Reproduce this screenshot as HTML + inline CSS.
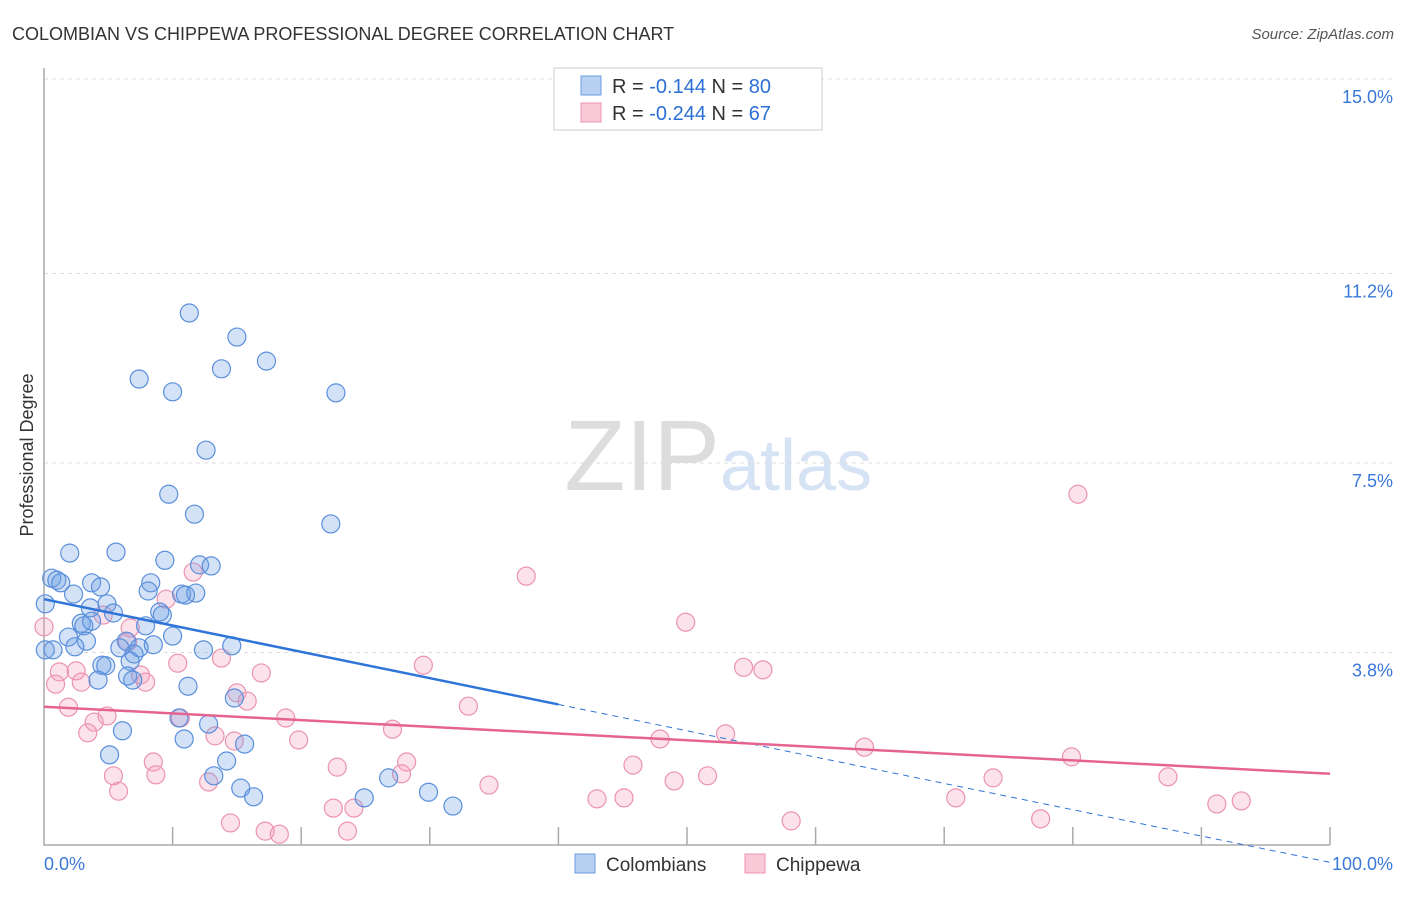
<!DOCTYPE html>
<html><head><meta charset="utf-8"><style>
body{margin:0;background:#fff;font-family:"Liberation Sans",sans-serif}
svg text{font-family:"Liberation Sans",sans-serif}
</style></head><body>
<svg id="c" width="1406" height="892" xmlns="http://www.w3.org/2000/svg">
<text x="12" y="40" font-size="18" fill="#333">COLOMBIAN VS CHIPPEWA PROFESSIONAL DEGREE CORRELATION CHART</text>
<text x="1394" y="39" font-size="15" fill="#555" text-anchor="end" font-style="italic">Source: ZipAtlas.com</text>
<text x="33" y="455" font-size="18" fill="#333" text-anchor="middle" transform="rotate(-90 33 455)">Professional Degree</text>
<text x="720" y="490" font-size="100" fill="#ddd" text-anchor="end" font-family="Liberation Serif">ZIP</text>
<text x="720" y="490" font-size="72" fill="#d5e3f5">atlas</text>
<g id="grid"></g><g id="axes"></g><g id="pts"></g><g id="lines"></g>
<g>
<rect x="554" y="68" width="268" height="62" fill="#fff" stroke="#ccc"/>
<rect x="581" y="76" width="20" height="19" fill="#b8d0f2" stroke="#6d9ce0"/>
<rect x="581" y="103" width="20" height="19" fill="#f9c9d7" stroke="#ec94b0"/>
<text x="612" y="93" font-size="20" fill="#333">R = <tspan fill="#2d6fd6">-0.144</tspan>   N = <tspan fill="#2d6fd6">80</tspan></text>
<text x="612" y="120" font-size="20" fill="#333">R = <tspan fill="#2d6fd6">-0.244</tspan>   N = <tspan fill="#2d6fd6"> 67</tspan></text>
</g>
<g>
<rect x="575" y="854" width="20" height="19" fill="#b8d0f2" stroke="#6d9ce0"/>
<text x="606" y="871" font-size="19" fill="#333">Colombians</text>
<rect x="745" y="854" width="20" height="19" fill="#f9c9d7" stroke="#ec94b0"/>
<text x="776" y="871" font-size="19" fill="#333">Chippewa</text>
</g>
</svg>
<script>
const yTicks=[15.0,11.2,7.5,3.8];
const yTickLabels=["15.0%","11.2%","7.5%","3.8%"];
const xTickLabels=["0.0%","100.0%"];
const blueX=[11.3,15.0,17.3,13.8,7.4,10.0,22.7,12.6,9.7,11.7,22.3,2.0,5.6,9.4,12.1,13.0,0.6,1.0,1.3,3.7,4.4,8.3,2.3,8.1,10.7,11.8,11.0,0.1,3.6,4.9,5.4,9.0,9.2,2.9,3.1,3.7,7.9,10.0,1.9,3.3,2.4,6.4,5.9,7.4,8.5,14.6,12.4,0.1,7.0,6.7,4.5,4.8,6.5,6.9,4.2,11.2,14.8,10.5,12.8,6.1,10.9,15.6,5.1,14.2,13.2,15.3,16.3,26.8,24.9,29.9,31.8,0.7];
const blueY=[10.43,9.96,9.49,9.34,9.14,8.89,8.87,7.75,6.89,6.50,6.31,5.74,5.76,5.60,5.51,5.49,5.25,5.21,5.16,5.16,5.08,5.16,4.94,5.00,4.94,4.96,4.92,4.75,4.67,4.75,4.57,4.59,4.53,4.37,4.32,4.41,4.32,4.12,4.10,4.02,3.91,4.02,3.89,3.89,3.95,3.93,3.85,3.85,3.77,3.63,3.55,3.54,3.34,3.26,3.26,3.14,2.91,2.52,2.40,2.27,2.11,2.01,1.80,1.68,1.39,1.15,0.98,1.35,0.96,1.07,0.80,3.85];
const pinkX=[80.4,37.5,9.5,11.6,4.6,6.7,49.9,6.5,0.0,10.4,13.8,54.4,55.9,29.5,1.2,2.5,7.5,16.9,2.9,0.9,7.9,15.0,15.8,33.0,1.9,4.9,18.8,10.6,3.9,27.1,3.4,53.0,13.3,14.8,19.8,47.9,63.8,8.5,28.2,79.9,22.8,45.8,5.4,8.7,27.8,51.6,12.8,87.4,73.8,49.0,34.6,5.8,70.9,43.0,45.1,93.1,91.2,22.5,24.1,14.5,58.1,77.5,17.2,18.3,23.6];
const pinkY=[6.89,5.29,4.84,5.37,4.53,4.28,4.39,4.00,4.30,3.59,3.69,3.51,3.46,3.55,3.42,3.44,3.36,3.40,3.22,3.18,3.22,3.01,2.85,2.75,2.73,2.56,2.52,2.52,2.44,2.30,2.23,2.21,2.17,2.07,2.09,2.11,1.95,1.66,1.66,1.76,1.56,1.60,1.39,1.41,1.43,1.39,1.27,1.37,1.35,1.29,1.21,1.09,0.96,0.94,0.96,0.90,0.84,0.76,0.76,0.47,0.51,0.55,0.31,0.25,0.31];
const blueTrend=[4.84,-0.3], blueSolidEnd=40;
const pinkTrend=[2.74,1.43];
const X0=44,X1=1330,Y0=847,PY=51.2;
const sx=v=>X0+(X1-X0)*v/100, sy=v=>Y0-v*PY;
const NS="http://www.w3.org/2000/svg";
function mk(t,p,a){const e=document.createElementNS(NS,t);for(const k in a)e.setAttribute(k,a[k]);p.appendChild(e);return e;}
const grid=document.getElementById('grid'),axes=document.getElementById('axes'),pts=document.getElementById('pts'),lines=document.getElementById('lines');
yTicks.forEach((v,i)=>{
 const l=mk('line',grid,{x1:44,x2:1394,y1:sy(v),y2:sy(v),stroke:'#ddd','stroke-dasharray':'4 4'});
 
 
 const t=mk('text',grid,{x:1393,y:sy(v)+24,'font-size':18,fill:'#3a78d8','text-anchor':'end'});
 t.textContent=yTickLabels[i];
 
 
});
const ax=mk('path',axes,{d:'M44 68 V845 H1330',fill:'none',stroke:'#aaa','stroke-width':1.5});


for(let i=1;i<=10;i++){const tk=mk('line',axes,{x1:sx(i*10),x2:sx(i*10),y1:827,y2:845,stroke:'#aaa','stroke-width':1.5});
 
 }
const xl0=mk('text',axes,{x:44,y:870,'font-size':18,fill:'#3a78d8'});xl0.textContent=xTickLabels[0];


const xl1=mk('text',axes,{x:1393,y:870,'font-size':18,fill:'#3a78d8','text-anchor':'end'});xl1.textContent=xTickLabels[1];


pinkX.forEach((x,i)=>{const c=mk('circle',pts,{cx:sx(x),cy:sy(pinkY[i]),r:9,fill:'rgba(244,160,188,0.3)',stroke:'#eb93b0','stroke-width':1.2});
 
 });
blueX.forEach((x,i)=>{const c=mk('circle',pts,{cx:sx(x),cy:sy(blueY[i]),r:9,fill:'rgba(110,160,230,0.3)',stroke:'#5a8fdc','stroke-width':1.2});
 
 });
const bAt=x=>blueTrend[0]+(blueTrend[1]-blueTrend[0])*x/100;
const b1=mk('line',lines,{x1:sx(0),y1:sy(bAt(0)),x2:sx(blueSolidEnd),y2:sy(bAt(blueSolidEnd)),stroke:'#2f74d8','stroke-width':2.5});


const b2=mk('line',lines,{x1:sx(blueSolidEnd),y1:sy(bAt(blueSolidEnd)),x2:sx(100),y2:sy(bAt(100)),stroke:'#2f74d8','stroke-width':1,'stroke-dasharray':'6 5'});


const p1=mk('line',lines,{x1:sx(0),y1:sy(pinkTrend[0]),x2:sx(100),y2:sy(pinkTrend[1]),stroke:'#e5648f','stroke-width':2.5});


</script>
</body></html>
